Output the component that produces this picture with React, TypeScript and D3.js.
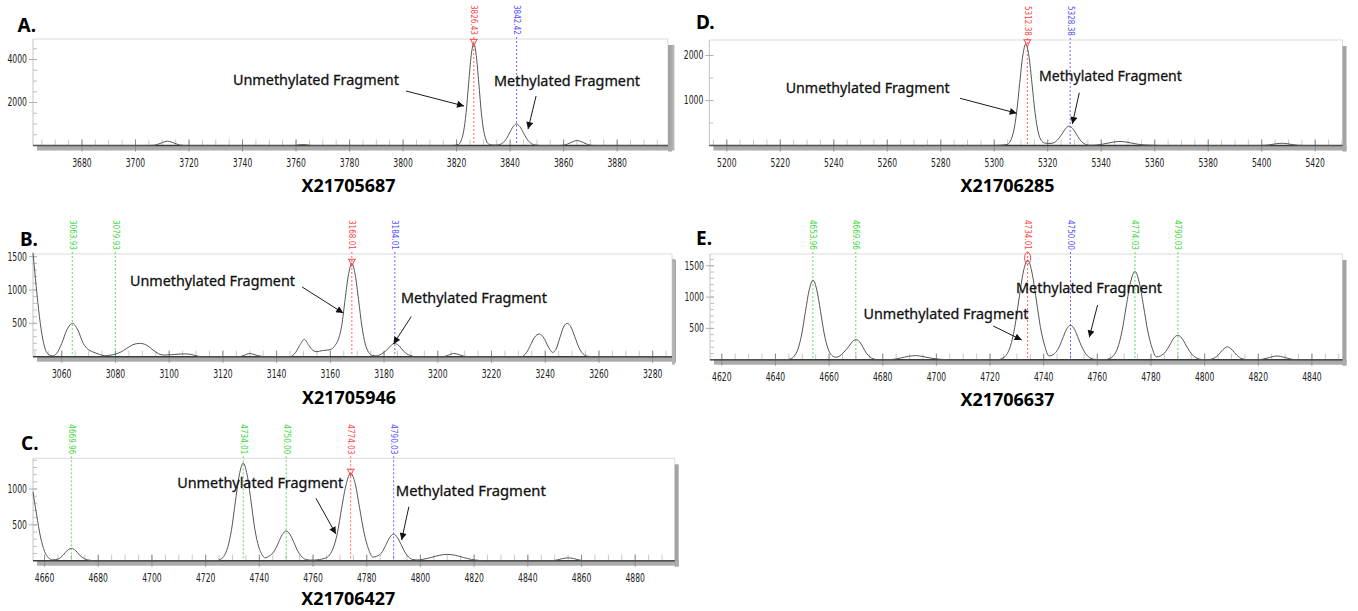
import React from "react";
import * as d3 from "d3";

type Pt = [number, number];
type Kind = "unmeth" | "meth" | "other";

// ---------- A. X21705687 ----------
const traceA: Pt[] = [
  [3661.7, 0], [3705.5, 0], [3707.5, 25], [3709.5, 110], [3712, 200], [3714.5, 110], [3716.5, 25], [3718.5, 0],
  [3759.5, 0], [3761, 30], [3762.5, 40], [3764, 30], [3765.5, 0],
  [3818.5, 0], [3820.7, 50], [3821.65, 210], [3822.6, 640], [3823.55, 1520], [3824.5, 2900], [3825.45, 4180],
  [3826.4, 4750], [3827.35, 4180], [3828.3, 2900], [3829.25, 1520], [3830.2, 640], [3831.15, 210], [3832.1, 60],
  [3833.5, 22], [3834.8, 18], [3836.2, 50], [3837.4, 135], [3838.65, 325], [3839.9, 610], [3841.15, 880],
  [3842.4, 1000], [3843.65, 880], [3844.9, 610], [3846.15, 330], [3847.4, 140], [3848.65, 45], [3849.9, 12], [3851, 0],
  [3858.5, 0], [3860.5, 25], [3862.5, 130], [3865, 230], [3867.5, 130], [3869.5, 25], [3871.5, 0], [3899, 0],
];
const tagsA = [
  { mz: 3826.43, tag: "3826.43", kind: "unmeth" as Kind },
  { mz: 3842.42, tag: "3842.42", kind: "meth" as Kind },
];
const xLabelsA = [3680, 3700, 3720, 3740, 3760, 3780, 3800, 3820, 3840, 3860, 3880];
const yLabelsA = [2000, 4000];

// ---------- B. X21705946 ----------
const traceB: Pt[] = [
  [3049.3, 1560], [3050.5, 1050], [3051.7, 600], [3053, 250], [3054.2, 80], [3055.5, 25], [3056.7, 12],
  [3058, 45], [3060, 200], [3062, 410], [3064, 500], [3066, 400], [3068, 200], [3070, 105], [3072, 65],
  [3074, 35], [3076, 15], [3078, 22], [3080, 40], [3082, 70], [3084, 120], [3086.5, 180], [3089, 200],
  [3091.5, 175], [3094, 100], [3096, 45], [3098, 25], [3101, 30], [3104, 40], [3106, 42], [3108, 35],
  [3110, 15], [3112, 0], [3126, 0], [3128, 22], [3130, 48], [3132, 28], [3134, 8], [3136, 0], [3145, 0],
  [3147, 60], [3148.6, 170], [3150.3, 260], [3152, 170], [3153.5, 95], [3155, 75], [3157, 92], [3159, 100],
  [3160.5, 115], [3161.75, 170], [3163, 260], [3164.25, 470], [3165.5, 860], [3166.75, 1230], [3168, 1400],
  [3169.25, 1230], [3170.5, 855], [3171.75, 455], [3173, 190], [3174.25, 65], [3175.5, 22], [3177, 12],
  [3179, 40], [3181.5, 120], [3182.75, 175], [3184, 200], [3185.25, 175], [3186.5, 120], [3188, 55],
  [3190, 15], [3192, 0], [3202, 0], [3204, 25], [3206, 50], [3208, 30], [3210, 5], [3212, 0], [3231, 0],
  [3233, 60], [3234.5, 170], [3236, 290], [3237.8, 340], [3239.5, 280], [3241, 160], [3242.8, 65],
  [3244, 110], [3245.5, 290], [3247, 460], [3248.2, 500], [3249.5, 450], [3251, 300], [3252.5, 140],
  [3254, 45], [3256, 5], [3258, 0], [3287.2, 0],
];
const tagsB = [
  { mz: 3063.93, tag: "3063.93", kind: "other" as Kind },
  { mz: 3079.93, tag: "3079.93", kind: "other" as Kind },
  { mz: 3168.01, tag: "3168.01", kind: "unmeth" as Kind },
  { mz: 3184.01, tag: "3184.01", kind: "meth" as Kind },
];
const xLabelsB = [3060, 3080, 3100, 3120, 3140, 3160, 3180, 3200, 3220, 3240, 3260, 3280];
const yLabelsB = [500, 1000, 1500];

// ---------- C. X21706427 ----------
const traceC: Pt[] = [
  [4655.7, 960], [4657, 650], [4658.5, 330], [4660, 130], [4661.5, 40], [4663, 12], [4665, 22], [4667, 80],
  [4668.5, 145], [4670, 170], [4671.5, 145], [4673, 80], [4675, 25], [4677, 5], [4679, 0],
  [4724, 0], [4725.3, 15], [4726.75, 60], [4728.2, 184], [4729.65, 435], [4731.1, 830], [4732.55, 1197],
  [4734, 1360], [4735.45, 1197], [4736.9, 830], [4738.35, 435], [4739.8, 190], [4741, 85], [4742.2, 40],
  [4743.5, 60], [4745.65, 140], [4747.1, 250], [4748.55, 365], [4750, 414], [4751.45, 365], [4752.9, 250],
  [4754.35, 132], [4755.8, 56], [4757.25, 18], [4759, 8], [4760.5, 8], [4762.4, 18], [4764.1, 30],
  [4765.8, 65], [4767.4, 165], [4769.1, 390], [4770.7, 744], [4772.4, 1074], [4774, 1220], [4775.7, 1074],
  [4777.3, 744], [4779, 390], [4780.6, 170], [4782.3, 50], [4783.6, 60], [4785.8, 125], [4787.2, 225],
  [4788.6, 325], [4790, 370], [4791.4, 325], [4792.8, 225], [4794.2, 120], [4795.6, 50], [4797, 18],
  [4799, 10], [4801, 20], [4804, 45], [4807, 75], [4810, 88], [4813, 75], [4816, 45], [4819, 18],
  [4822, 3], [4824, 0], [4849, 0], [4851, 12], [4853, 30], [4855, 40], [4857, 30], [4859, 12], [4861, 0],
  [4894.7, 0],
];
const tagsC = [
  { mz: 4669.96, tag: "4669.96", kind: "other" as Kind },
  { mz: 4734.01, tag: "4734.01", kind: "other" as Kind },
  { mz: 4750.0, tag: "4750.00", kind: "other" as Kind },
  { mz: 4774.03, tag: "4774.03", kind: "unmeth" as Kind },
  { mz: 4790.03, tag: "4790.03", kind: "meth" as Kind },
];
const xLabelsC = [4660, 4680, 4700, 4720, 4740, 4760, 4780, 4800, 4820, 4840, 4860, 4880];
const yLabelsC = [500, 1000];

// ---------- D. X21706285 ----------
const traceD: Pt[] = [
  [5193.5, 0], [5300, 0], [5302.5, 6], [5304.9, 25], [5306.05, 100], [5307.2, 305], [5308.35, 730],
  [5309.5, 1380], [5310.65, 1990], [5311.8, 2260], [5312.95, 1990], [5314.1, 1380], [5315.25, 730],
  [5316.4, 305], [5317.55, 115], [5318.8, 55], [5320.4, 45], [5322, 55], [5323.5, 115], [5325.4, 262],
  [5326.7, 378], [5328, 430], [5329.3, 378], [5330.6, 262], [5331.9, 140], [5333.2, 58], [5334.5, 18],
  [5336, 4], [5338, 10], [5341, 35], [5344, 70], [5347, 90], [5350, 70], [5353, 35], [5356, 12],
  [5359, 5], [5362, 0], [5400, 0], [5403, 15], [5405.5, 40], [5407.5, 50], [5409.5, 40], [5412, 15],
  [5415, 0], [5430.2, 0],
];
const tagsD = [
  { mz: 5312.38, tag: "5312.38", kind: "unmeth" as Kind },
  { mz: 5328.38, tag: "5328.38", kind: "meth" as Kind },
];
const xLabelsD = [5200, 5220, 5240, 5260, 5280, 5300, 5320, 5340, 5360, 5380, 5400, 5420];
const yLabelsD = [1000, 2000];

// ---------- E. X21706637 ----------
const traceE: Pt[] = [
  [4615.6, 0], [4644, 0], [4645.6, 14], [4647, 56], [4648.4, 170], [4649.8, 410], [4651.2, 775],
  [4652.6, 1118], [4654, 1270], [4655.4, 1118], [4656.8, 775], [4658.2, 410], [4659.6, 175], [4661, 70],
  [4662.5, 40], [4664, 60], [4665.5, 120], [4667.4, 215], [4668.7, 290], [4670, 320], [4671.3, 290],
  [4672.6, 200], [4673.9, 105], [4675.2, 45], [4676.5, 15], [4678, 0], [4682, 0], [4685, 12], [4688, 40],
  [4691, 62], [4692.5, 65], [4695, 50], [4698, 25], [4701, 8], [4704, 0], [4723, 0], [4724.4, 18],
  [4726, 70], [4727.6, 215], [4729.2, 515], [4730.8, 970], [4732.4, 1400], [4734, 1590], [4735.6, 1400],
  [4737.2, 970], [4738.8, 515], [4740.4, 220], [4742, 60], [4743.5, 80], [4745.5, 180], [4747, 330],
  [4748.5, 485], [4750, 550], [4751.5, 485], [4753, 330], [4754.5, 180], [4756, 75], [4757.5, 25],
  [4759, 5], [4761, 0], [4763, 0], [4764.4, 18], [4766, 62], [4767.6, 190], [4769.2, 457], [4770.8, 860],
  [4772.4, 1240], [4774, 1410], [4775.6, 1240], [4777.2, 860], [4778.8, 457], [4780.4, 190], [4782, 45],
  [4783.5, 60], [4785.5, 130], [4787, 235], [4788.5, 345], [4790, 390], [4791.5, 345], [4793, 235],
  [4794.5, 130], [4796, 55], [4797.5, 18], [4799, 3], [4801, 0], [4803, 15], [4805, 70], [4806.8, 160],
  [4808.5, 205], [4810.2, 160], [4812, 70], [4814, 15], [4816, 0], [4820, 0], [4822, 12], [4824.5, 40],
  [4827, 60], [4829.5, 40], [4832, 12], [4834, 0], [4851.4, 0],
];
const tagsE = [
  { mz: 4653.96, tag: "4653.96", kind: "other" as Kind },
  { mz: 4669.96, tag: "4669.96", kind: "other" as Kind },
  { mz: 4734.01, tag: "4734.01", kind: "unmeth" as Kind },
  { mz: 4750.0, tag: "4750.00", kind: "meth" as Kind },
  { mz: 4774.03, tag: "4774.03", kind: "other" as Kind },
  { mz: 4790.03, tag: "4790.03", kind: "other" as Kind },
];
const xLabelsE = [4620, 4640, 4660, 4680, 4700, 4720, 4740, 4760, 4780, 4800, 4820, 4840];
const yLabelsE = [500, 1000, 1500];

const UNMETH = "Unmethylated Fragment";
const METH = "Methylated Fragment";

const FONT_AXIS = "'Liberation Sans Narrow','Arial Narrow','DejaVu Sans Condensed',sans-serif";
const FONT_TEXT = "'Noto Sans','Open Sans',sans-serif";
const tagColor: Record<Kind, string> = { unmeth: "#ff4646", meth: "#5050ff", other: "#3cd83c" };

// panel layout; notes are placed in data coordinates (m/z, intensity)
const panels = [
  {
    id: "A.", title: "X21705687", trace: traceA, tags: tagsA, xLabels: xLabelsA, yLabels: yLabelsA,
    xDomain: [3661.7, 3899], yTop: 4953, yStep: 500,
    box: { l: 33, r: 668, t: 39, b: 145.5 }, letter: [17.5, 25], titleAt: [348.5, 185], sideBar: false,
    notes: [
      { text: UNMETH, w: 166, at: [3736.4, 3079], tail: [3801.1, 2535], tip: [3822.8, 1837] },
      { text: METH, w: 146, at: [3834.0, 3047], tail: [3849.7, 2302], tip: [3846.7, 767] },
    ],
  },
  {
    id: "B.", title: "X21705946", trace: traceB, tags: tagsB, xLabels: xLabelsB, yLabels: yLabelsB,
    xDomain: [3049.3, 3287.2], yTop: 1540, yStep: 100,
    box: { l: 33, r: 672, t: 254, b: 356.7 }, letter: [20, 239], titleAt: [349, 397.3], sideBar: false,
    notes: [
      { text: UNMETH, w: 165, at: [3085.4, 1150], tail: [3149.5, 1045], tip: [3164.8, 655] },
      { text: METH, w: 146, at: [3186.3, 900], tail: [3190.1, 600], tip: [3183.5, 190] },
    ],
  },
  {
    id: "C.", title: "X21706427", trace: traceC, tags: tagsC, xLabels: xLabelsC, yLabels: yLabelsC,
    xDomain: [4655.7, 4894.7], yTop: 1428, yStep: 100,
    box: { l: 33, r: 674.7, t: 458.3, b: 560.7 }, letter: [21, 443], titleAt: [348.3, 598.3], sideBar: false,
    notes: [
      { text: UNMETH, w: 166, at: [4709.4, 1102], tail: [4761.1, 870], tip: [4768.5, 372] },
      { text: METH, w: 150, at: [4790.8, 986], tail: [4795.7, 753], tip: [4793.0, 289] },
    ],
  },
  {
    id: "D.", title: "X21706285", trace: traceD, tags: tagsD, xLabels: xLabelsD, yLabels: yLabelsD,
    xDomain: [5193.5, 5430.2], yTop: 2344, yStep: 500,
    box: { l: 709.4, r: 1342.5, t: 40, b: 145.5 }, letter: [696, 21.7], titleAt: [1007.5, 185], sideBar: true,
    notes: [
      { text: UNMETH, w: 164, at: [5222.0, 1307], tail: [5287.2, 1049], tip: [5308.4, 716] },
      { text: METH, w: 143, at: [5316.7, 1567], tail: [5331.8, 1173], tip: [5329.2, 478] },
    ],
  },
  {
    id: "E.", title: "X21706637", trace: traceE, tags: tagsE, xLabels: xLabelsE, yLabels: yLabelsE,
    xDomain: [4615.6, 4851.4], yTop: 1688, yStep: 100,
    box: { l: 710, r: 1342.5, t: 254, b: 359.7 }, letter: [696, 238.3], titleAt: [1007.5, 399.3], sideBar: true,
    notes: [
      { text: UNMETH, w: 165, at: [4672.8, 741], tail: [4721.2, 538], tip: [4731.8, 315] },
      { text: METH, w: 146, at: [4729.7, 1157], tail: [4760.1, 874], tip: [4757.0, 358] },
    ],
  },
];

type PanelDef = (typeof panels)[number];

function Panel({ p }: { p: PanelDef }) {
  const { l, r, t, b } = p.box;
  const x = d3.scaleLinear().domain(p.xDomain).range([l, r]);
  const y = d3.scaleLinear().domain([0, p.yTop]).range([b, t]);
  const line = d3.line<Pt>().x((d) => x(d[0])).y((d) => y(d[1])).curve(d3.curveMonotoneX);
  const minorX = d3.range(Math.ceil(p.xDomain[0] / 5) * 5, p.xDomain[1], 5);
  const minorY = d3.range(p.yStep, p.yTop, p.yStep);

  return (
    <g>
      {p.sideBar && <rect x={l - 38} y={t + 5} width={3} height={b - t} fill="#b4b4b4" />}
      {/* frame */}
      <line x1={l} x2={r} y1={t} y2={t} stroke="#dadada" />
      <line x1={r} x2={r} y1={t} y2={b} stroke="#dadada" />
      <rect x={r} y={t + 6} width={4} height={b - t} fill="#a4a4a4" />
      <line x1={l} x2={l} y1={t} y2={b} stroke="#c4c4c4" />
      <rect x={l + 4} y={b} width={r - l} height={5} fill="#ababab" />

      {/* y ticks */}
      {minorY.map((v) => (
        <line key={"my" + v} x1={l} x2={l + 4} y1={y(v)} y2={y(v)} stroke="#c0c0c0" />
      ))}
      {p.yLabels.map((v) => (
        <g key={"yl" + v}>
          <line x1={l - 4} x2={l + 4} y1={y(v)} y2={y(v)} stroke="#b0b0b0" />
          <text x={l - 6} y={y(v)} textAnchor="end" dominantBaseline="central" fontFamily={FONT_AXIS}
            fontSize={11.5} fill="#222" textLength={String(v).length * 4.9} lengthAdjust="spacingAndGlyphs">
            {v}
          </text>
        </g>
      ))}

      {/* x ticks */}
      {minorX.map((v) => (
        <line key={"mx" + v} x1={x(v)} x2={x(v)} y1={b} y2={b - 6} stroke="#c8c8c8" />
      ))}
      {p.xLabels.map((v) => (
        <g key={"xl" + v}>
          <line x1={x(v)} x2={x(v)} y1={b - 6} y2={b + 6} stroke="#8c8c8c" />
          <text x={x(v)} y={b + 17} textAnchor="middle" dominantBaseline="central" fontFamily={FONT_AXIS}
            fontSize={11.5} fill="#222" textLength={19.5} lengthAdjust="spacingAndGlyphs">
            {v}
          </text>
        </g>
      ))}

      {/* peak tags */}
      {p.tags.map((m) => {
        const cx = x(m.mz);
        const c = tagColor[m.kind];
        return (
          <g key={m.tag}>
            <line x1={cx} x2={cx} y1={t - 2} y2={b} stroke={c} strokeOpacity={0.85} strokeDasharray="2,2" />
            <text transform={`translate(${cx},${t - 34}) rotate(90)`} dominantBaseline="central"
              fontFamily={FONT_AXIS} fontSize={8} fill={c} textLength={30} lengthAdjust="spacingAndGlyphs">
              {m.tag}
            </text>
          </g>
        );
      })}

      <line x1={l} x2={r} y1={b} y2={b} stroke="#3c3c3c" strokeWidth={1.5} />
      <path d={line(p.trace) ?? ""} fill="none" stroke="#555" strokeWidth={1} />

      {/* apex marker on the unmethylated peak */}
      {p.tags.filter((m) => m.kind === "unmeth").map((m) => {
        const apex = d3.max(p.trace.filter((d) => Math.abs(d[0] - m.mz) < 2), (d) => d[1]) ?? 0;
        const cx = x(m.mz);
        const cy = y(apex);
        return p.id === "E." ? (
          <g key={"ap" + m.tag} fill="none" stroke="#ff4646" strokeWidth={1}>
            <ellipse cx={cx} cy={cy - 2} rx={3} ry={6} />
          </g>
        ) : (
          <path key={"ap" + m.tag} d={`M${cx - 4},${cy - 4}H${cx + 4}M${cx - 3},${cy - 4}L${cx},${cy + 3}L${cx + 3},${cy - 4}`}
            fill="none" stroke="#ff4646" strokeWidth={1} />
        );
      })}

      {/* annotations */}
      {p.notes.map((n) => (
        <g key={n.text}>
          <text x={x(n.at[0])} y={y(n.at[1])} dominantBaseline="central" fontFamily={FONT_TEXT} fontSize={15}
            fill="#111" stroke="#111" strokeWidth={0.3} textLength={n.w} lengthAdjust="spacingAndGlyphs">
            {n.text}
          </text>
          <line x1={x(n.tail[0])} y1={y(n.tail[1])} x2={x(n.tip[0])} y2={y(n.tip[1])} stroke="#1a1a1a"
            strokeWidth={1} markerEnd="url(#arrowHead)" />
        </g>
      ))}

      <text x={p.letter[0]} y={p.letter[1]} dominantBaseline="central" fontFamily={FONT_TEXT} fontWeight="bold"
        fontSize={19} fill="#000">
        {p.id}
      </text>
      <text x={p.titleAt[0]} y={p.titleAt[1]} textAnchor="middle" dominantBaseline="central" fontFamily={FONT_TEXT}
        fontWeight="bold" fontSize={18} fill="#000" textLength={94} lengthAdjust="spacingAndGlyphs">
        {p.title}
      </text>
    </g>
  );
}

export default function App() {
  return (
    <svg width={1358} height={611} style={{ position: "absolute", left: 0, top: 0, background: "#fff" }}>
      <defs>
        <marker id="arrowHead" viewBox="0 0 10 10" refX={10} refY={5} markerWidth={9} markerHeight={7}
          markerUnits="userSpaceOnUse" orient="auto">
          <path d="M0,0L10,5L0,10z" fill="#111" />
        </marker>
      </defs>
      {panels.map((p) => (
        <Panel key={p.id} p={p} />
      ))}
    </svg>
  );
}
